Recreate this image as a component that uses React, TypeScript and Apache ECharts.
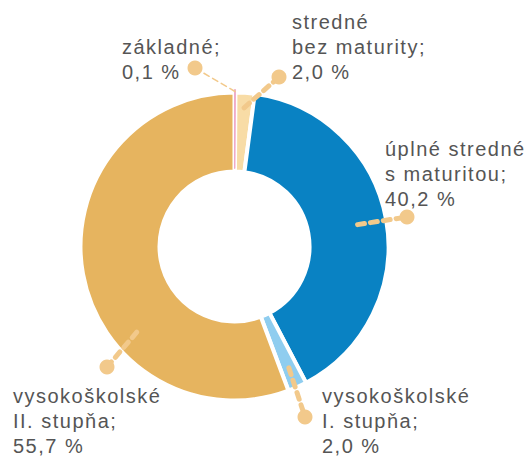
import React, { useEffect, useRef } from 'react';
import * as echarts from 'echarts';

// ---- data ----
const categories = [
  'základné',
  'stredné\nbez maturity',
  'úplné stredné\ns maturitou',
  'vysokoškolské\nI. stupňa',
  'vysokoškolské\nII. stupňa',
];
const shares = [0.1, 2.0, 40.2, 2.0, 55.7];
const colors = ['#EDA3C4', '#F8DCA6', '#0982C3', '#8FCDEF', '#E6B45F'];

// ---- layout (not data) ----
const CX = 234.5;
const CY = 246.5;
const R_IN = 75;
const R_OUT = 154;
const labelPos: [number, number][] = [
  [122, 34],
  [292, 9],
  [385, 136],
  [322, 383],
  [13, 383],
];
const leaders = [
  { offset: 0, r0: 155, dot: [195, 68], width: 1.5, dash: [6, 4] },
  { offset: 0, r0: 139, dot: [279, 77], width: 5, dash: [7, 6] },
  { offset: 0, r0: 125, dot: [407, 217], width: 5, dash: [7, 6] },
  { offset: 0, r0: 133, dot: [305, 417], width: 5, dash: [7, 6] },
  { offset: -31, r0: 130, dot: [107, 367], width: 5, dash: [7, 6] },
];
const LEADER_COLOR = '#F2C98B';

export default function App() {
  const ref = useRef<HTMLDivElement>(null);
  useEffect(() => {
    if (!ref.current) return;
    const chart = echarts.init(ref.current, undefined, { renderer: 'svg' });
    const total = shares.reduce((a, b) => a + b, 0);
    let cum = 0;
    const graphics: any[] = [];
    shares.forEach((v, i) => {
      const mid = ((cum + v / 2) / total) * 360 + leaders[i].offset;
      cum += v;
      const a = (mid * Math.PI) / 180;
      const L = leaders[i];
      const x0 = CX + L.r0 * Math.sin(a);
      const y0 = CY - L.r0 * Math.cos(a);
      graphics.push({
        type: 'line',
        z: 100,
        shape: { x1: x0, y1: y0, x2: L.dot[0], y2: L.dot[1] },
        style: { stroke: LEADER_COLOR, lineWidth: L.width, lineDash: L.dash, lineCap: 'round' },
        silent: true,
      });
      graphics.push({
        type: 'circle',
        z: 101,
        shape: { cx: L.dot[0], cy: L.dot[1], r: 7.5 },
        style: { fill: LEADER_COLOR },
        silent: true,
      });
    });

    chart.setOption({
      animation: false,
      graphic: graphics,
      series: [
        {
          type: 'pie',
          center: [CX, CY],
          radius: [R_IN, R_OUT],
          startAngle: 90,
          clockwise: true,
          avoidLabelOverlap: false,
          minShowLabelAngle: 0,
          itemStyle: { borderColor: '#ffffff', borderWidth: 4 },
          label: {
            show: true,
            position: 'outside',
            formatter: (p: any) => `${p.name};\n${p.value.toFixed(1).replace('.', ',')} %`,
            fontFamily: 'Liberation Sans, Arial, sans-serif',
            fontSize: 20,
            lineHeight: 25,
            color: '#555555',
          },
          labelLine: { show: false },
          labelLayout: (params: any) => ({
            x: labelPos[params.dataIndex][0],
            y: labelPos[params.dataIndex][1],
            align: 'left',
            verticalAlign: 'top',
          }),
          emphasis: { disabled: true },
          data: categories.map((c, i) => ({ name: c, value: shares[i], itemStyle: { color: colors[i] } })),
        },
        {
          type: 'pie',
          center: [CX, CY],
          radius: [R_IN + 3, R_OUT + 3],
          startAngle: 90,
          clockwise: true,
          silent: true,
          z: 3,
          label: { show: false },
          labelLine: { show: false },
          emphasis: { disabled: true },
          data: [
            { name: 'a', value: shares[0], itemStyle: { color: colors[0], borderColor: colors[0], borderWidth: 0.8 } },
            { name: 'b', value: total - shares[0], itemStyle: { color: 'rgba(0,0,0,0)' } },
          ],
        },
      ],
    });
    return () => chart.dispose();
  }, []);
  return (
    <>
      <style>{`#root svg text{letter-spacing:1.5px}`}</style>
      <div ref={ref} style={{ position: 'absolute', left: 0, top: 0, width: 530, height: 458 }} />
    </>
  );
}
